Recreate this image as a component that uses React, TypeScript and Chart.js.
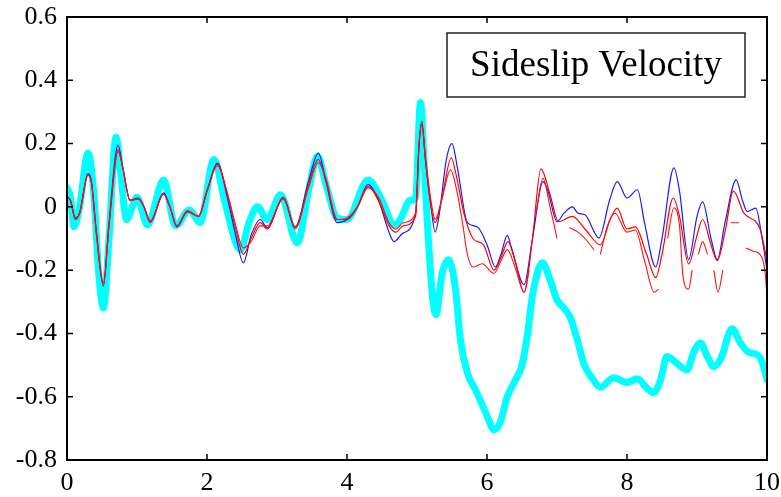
import React, { useEffect, useRef } from "react";
import { Chart, registerables } from "chart.js";

Chart.register(...registerables);

const xTickValues = [0, 2, 4, 6, 8, 10];
const xTickLabels = ["0", "2", "4", "6", "8", "10"];
const yTickValues = [-0.8, -0.6, -0.4, -0.2, 0, 0.2, 0.4, 0.6];
const yTickLabels = ["-0.8", "-0.6", "-0.4", "-0.2", "0", "0.2", "0.4", "0.6"];
const titleText = "Sideslip Velocity";

const cyanX = [0.0, 0.05, 0.1, 0.18, 0.3, 0.38, 0.45, 0.52, 0.6, 0.7, 0.77, 0.85, 1.0, 1.15, 1.38, 1.55, 1.75, 1.9, 2.1, 2.25, 2.48, 2.6, 2.72, 2.86, 3.05, 3.29, 3.45, 3.58, 3.7, 3.86, 4.0, 4.3, 4.5, 4.67, 4.76, 4.9, 4.98, 5.05, 5.1, 5.14, 5.22, 5.27, 5.36, 5.45, 5.55, 5.62, 5.72, 5.84, 6.0, 6.1, 6.19, 6.29, 6.4, 6.5, 6.58, 6.65, 6.79, 6.9, 7.0, 7.1, 7.19, 7.29, 7.39, 7.5, 7.62, 7.81, 8.0, 8.15, 8.27, 8.38, 8.48, 8.57, 8.71, 8.86, 8.95, 9.05, 9.14, 9.24, 9.34, 9.5, 9.62, 9.74, 9.86, 9.93, 10.0];
const cyanY = [0.06, 0.03, -0.063, 0.0, 0.17, 0.05, -0.2, -0.32, -0.1, 0.22, 0.1, -0.04, 0.03, -0.057, 0.085, -0.06, -0.01, -0.05, 0.15, 0.02, -0.136, -0.05, 0.0, -0.04, 0.038, -0.114, 0.05, 0.16, 0.07, -0.035, -0.04, 0.085, 0.02, -0.057, -0.04, 0.02, 0.03, 0.33, 0.15, -0.02, -0.28, -0.34, -0.21, -0.167, -0.26, -0.42, -0.525, -0.58, -0.66, -0.705, -0.68, -0.6, -0.55, -0.5, -0.4, -0.28, -0.177, -0.23, -0.294, -0.32, -0.35, -0.42, -0.5, -0.54, -0.57, -0.54, -0.555, -0.543, -0.57, -0.587, -0.546, -0.473, -0.494, -0.515, -0.46, -0.43, -0.47, -0.505, -0.48, -0.385, -0.43, -0.46, -0.467, -0.49, -0.546];

const blueX = [0.0, 0.05, 0.12, 0.18, 0.3, 0.35, 0.42, 0.52, 0.6, 0.73, 0.8, 0.9, 1.02, 1.1, 1.19, 1.38, 1.47, 1.57, 1.72, 1.88, 2.0, 2.15, 2.29, 2.4, 2.52, 2.63, 2.76, 2.86, 3.09, 3.26, 3.45, 3.59, 3.7, 3.86, 4.0, 4.15, 4.3, 4.45, 4.6, 4.67, 4.8, 4.98, 5.03, 5.07, 5.12, 5.2, 5.26, 5.32, 5.42, 5.5, 5.58, 5.72, 5.86, 6.0, 6.12, 6.2, 6.29, 6.35, 6.53, 6.65, 6.8, 6.87, 7.0, 7.1, 7.22, 7.3, 7.4, 7.6, 7.75, 7.86, 8.0, 8.15, 8.25, 8.41, 8.5, 8.67, 8.75, 8.88, 9.0, 9.08, 9.2, 9.29, 9.4, 9.56, 9.65, 9.72, 9.84, 9.93, 10.0];
const blueY = [0.03, 0.02, -0.035, -0.02, 0.105, 0.08, -0.08, -0.25, -0.05, 0.195, 0.12, 0.022, 0.028, 0.0, -0.047, 0.044, 0.0, -0.063, -0.015, -0.03, 0.05, 0.138, 0.03, -0.08, -0.177, -0.09, -0.04, -0.066, 0.03, -0.063, 0.08, 0.17, 0.08, -0.05, -0.04, 0.0, 0.07, 0.02, -0.08, -0.11, -0.083, -0.02, 0.2, 0.26, 0.15, 0.0, -0.08, -0.02, 0.15, 0.2, 0.12, -0.05, -0.063, -0.12, -0.19, -0.15, -0.09, -0.13, -0.246, -0.1, 0.08, 0.05, -0.047, -0.02, 0.0, -0.02, -0.025, -0.098, 0.02, 0.08, 0.028, 0.054, -0.05, -0.19, -0.1, 0.123, 0.05, -0.167, -0.03, 0.016, -0.1, -0.167, -0.05, 0.085, 0.02, -0.015, -0.004, -0.1, -0.2];

const red1X = [0.0, 0.05, 0.12, 0.18, 0.3, 0.35, 0.42, 0.52, 0.6, 0.73, 0.8, 0.9, 1.02, 1.1, 1.19, 1.38, 1.47, 1.57, 1.72, 1.88, 2.0, 2.15, 2.29, 2.4, 2.52, 2.63, 2.76, 2.86, 3.09, 3.26, 3.45, 3.59, 3.7, 3.86, 4.0, 4.15, 4.3, 4.45, 4.6, 4.7, 4.8, 4.98, 5.03, 5.07, 5.12, 5.2, 5.26, 5.35, 5.49, 5.56, 5.67, 5.8, 5.95, 6.1, 6.2, 6.3, 6.4, 6.53, 6.65, 6.77, 6.9, 7.02, 7.22, 7.41, 7.62, 7.76, 7.86, 8.0, 8.12, 8.28, 8.41, 8.5, 8.66, 8.75, 8.88, 9.0, 9.08, 9.2, 9.29, 9.4, 9.52, 9.67, 9.9, 10.0];
const red1Y = [0.03, 0.02, -0.04, -0.02, 0.1, 0.075, -0.08, -0.24, -0.06, 0.175, 0.12, 0.02, 0.025, 0.0, -0.045, 0.04, 0.0, -0.06, -0.015, -0.03, 0.05, 0.135, 0.04, -0.06, -0.15, -0.1, -0.05, -0.07, 0.03, -0.07, 0.07, 0.15, 0.08, -0.04, -0.04, 0.0, 0.065, 0.02, -0.06, -0.08, -0.06, -0.03, 0.2, 0.27, 0.15, 0.0, -0.05, 0.02, 0.155, 0.1, -0.02, -0.1, -0.12, -0.2, -0.16, -0.11, -0.17, -0.27, -0.1, 0.12, 0.04, -0.047, -0.03, -0.073, -0.12, -0.04, -0.004, -0.07, -0.063, -0.15, -0.224, -0.15, 0.028, -0.03, -0.18, -0.09, -0.04, -0.12, -0.17, -0.08, 0.05, -0.02, -0.07, -0.17];

const red2X = [0.0, 0.05, 0.12, 0.18, 0.3, 0.35, 0.42, 0.52, 0.6, 0.73, 0.8, 0.9, 1.02, 1.1, 1.19, 1.38, 1.47, 1.57, 1.72, 1.88, 2.0, 2.15, 2.29, 2.4, 2.52, 2.63, 2.76, 2.86, 3.09, 3.26, 3.45, 3.59, 3.7, 3.86, 4.0, 4.15, 4.3, 4.45, 4.6, 4.7, 4.8, 4.98, 5.03, 5.07, 5.12, 5.2, 5.26, 5.35, 5.48, 5.56, 5.65, 5.72, 5.8, 5.93, 6.1, 6.2, 6.29, 6.4, 6.53, 6.6, 6.65, 6.7, 6.8, 6.9, 7.0, 7.05, 7.18, 7.3, 7.4, 7.53, 7.57, 7.62, 7.72, 7.83, 8.0, 8.12, 8.25, 8.39, 8.45, 8.5, 8.58, 8.67, 8.75, 8.8, 8.88, 8.93, 8.97, 9.02, 9.08, 9.15, 9.19, 9.24, 9.3, 9.37, 9.42, 9.48, 9.6, 9.65, 9.7, 9.8, 9.9, 9.97, 10.0];
const red2Y = [0.035, 0.02, -0.04, -0.02, 0.1, 0.075, -0.09, -0.25, -0.06, 0.18, 0.12, 0.02, 0.025, 0.0, -0.05, 0.04, 0.0, -0.06, -0.012, -0.03, 0.05, 0.13, 0.045, -0.05, -0.13, -0.11, -0.06, -0.06, 0.025, -0.065, 0.06, 0.14, 0.09, -0.04, -0.035, 0.0, 0.06, 0.03, -0.05, -0.07, -0.05, -0.02, 0.2, 0.26, 0.16, 0.02, -0.04, 0.02, 0.117, 0.06, -0.05, -0.15, -0.19, -0.18, -0.21, -0.17, -0.135, -0.19, -0.27, -0.2, null, -0.02, 0.09, 0.0, -0.1, null, -0.065, -0.08, -0.1, -0.136, null, -0.15, -0.06, -0.02, -0.08, -0.073, -0.17, -0.27, -0.26, null, -0.1, -0.003, -0.06, -0.22, -0.26, -0.2, null, -0.15, -0.11, -0.15, null, -0.2, -0.27, -0.2, null, -0.05, -0.05, null, -0.13, -0.14, -0.15, -0.2, -0.28];

const toPoints = (xs: number[], ys: (number | null)[]) => xs.map((x, i) => ({ x, y: ys[i] }));

const framePlugin = {
  id: "frameAndTitle",
  afterDatasetsDraw(chart: any) {
    const { ctx, chartArea, scales } = chart;
    const { left, right, top, bottom } = chartArea;
    const tl = 6;
    ctx.save();
    ctx.strokeStyle = "#000";
    ctx.lineWidth = 1.5;
    ctx.beginPath();
    for (const v of xTickValues) {
      const px = scales.x.getPixelForValue(v);
      ctx.moveTo(px, bottom);
      ctx.lineTo(px, bottom - tl);
      ctx.moveTo(px, top);
      ctx.lineTo(px, top + tl);
    }
    for (const v of yTickValues) {
      const py = scales.y.getPixelForValue(v);
      ctx.moveTo(left, py);
      ctx.lineTo(left + tl, py);
      ctx.moveTo(right, py);
      ctx.lineTo(right - tl, py);
    }
    ctx.stroke();
    ctx.lineWidth = 2;
    ctx.strokeRect(left, top, right - left, bottom - top);

    // title box
    const bx = right - 320;
    const by = top + 16;
    const bw = 298;
    const bh = 64;
    ctx.fillStyle = "#fff";
    ctx.fillRect(bx, by, bw, bh);
    ctx.lineWidth = 1.5;
    ctx.strokeStyle = "#222";
    ctx.strokeRect(bx, by, bw, bh);
    ctx.fillStyle = "#000";
    ctx.font = '37px "Liberation Serif", "Times New Roman", serif';
    ctx.textAlign = "center";
    ctx.textBaseline = "middle";
    ctx.fillText(titleText, bx + bw / 2, by + bh / 2 + 1);
    ctx.restore();
  },
};

export default function App() {
  const ref = useRef<HTMLCanvasElement | null>(null);
  useEffect(() => {
    document.body.style.margin = "0";
    const canvas = ref.current;
    if (!canvas) return;
    const font = { family: '"Liberation Serif", "Times New Roman", serif', size: 26 };
    const chart = new Chart(canvas, {
      type: "line",
      data: {
        datasets: [
          {
            label: "red2",
            data: toPoints(red2X, red2Y),
            borderColor: "#ff1010",
            borderWidth: 1.1,
            pointRadius: 0,
            spanGaps: false,
            cubicInterpolationMode: "monotone",
            order: 0,
          },
          {
            label: "red1",
            data: toPoints(red1X, red1Y),
            borderColor: "#ff0000",
            borderWidth: 1.2,
            pointRadius: 0,
            cubicInterpolationMode: "monotone",
            order: 1,
          },
          {
            label: "blue",
            data: toPoints(blueX, blueY),
            borderColor: "#1a1aff",
            borderWidth: 1.2,
            pointRadius: 0,
            cubicInterpolationMode: "monotone",
            order: 2,
          },
          {
            label: "cyan",
            data: toPoints(cyanX, cyanY),
            borderColor: "#00ffff",
            borderWidth: 7,
            pointRadius: 0,
            borderCapStyle: "round",
            borderJoinStyle: "round",
            cubicInterpolationMode: "monotone",
            order: 3,
          },
        ],
      },
      options: {
        responsive: false,
        animation: false,
        layout: { padding: { left: 0, top: 17, right: 14, bottom: 0 } },
        plugins: { legend: { display: false }, tooltip: { enabled: false }, title: { display: false } },
        scales: {
          x: {
            type: "linear",
            min: 0,
            max: 10,
            grid: { display: false, drawTicks: false },
            border: { display: false },
            afterBuildTicks: (s: any) => {
              s.ticks = xTickValues.map((v) => ({ value: v }));
            },
            afterFit: (s: any) => {
              s.height = 37;
              s.paddingLeft = 0;
              s.paddingRight = 0;
            },
            ticks: {
              font,
              color: "#000",
              padding: 8,
              maxRotation: 0,
              autoSkip: false,
              callback: (v: any) => {
                const i = xTickValues.indexOf(Number(v));
                return i >= 0 ? xTickLabels[i] : "";
              },
            },
          },
          y: {
            type: "linear",
            min: -0.8,
            max: 0.6,
            grid: { display: false, drawTicks: false },
            border: { display: false },
            afterBuildTicks: (s: any) => {
              s.ticks = yTickValues.map((v) => ({ value: v }));
            },
            afterFit: (s: any) => {
              s.width = 67;
              s.paddingTop = 0;
              s.paddingBottom = 0;
            },
            ticks: {
              font,
              color: "#000",
              padding: 10,
              autoSkip: false,
              callback: (v: any) => {
                const i = yTickValues.findIndex((t) => Math.abs(t - Number(v)) < 1e-9);
                return i >= 0 ? yTickLabels[i] : "";
              },
            },
          },
        },
      } as any,
      plugins: [framePlugin],
    });
    return () => chart.destroy();
  }, []);
  return (
    <div style={{ position: "fixed", left: 0, top: 0, width: 781, height: 497, background: "#fff" }}>
      <canvas ref={ref} width={781} height={497} style={{ width: 781, height: 497 }} />
    </div>
  );
}
